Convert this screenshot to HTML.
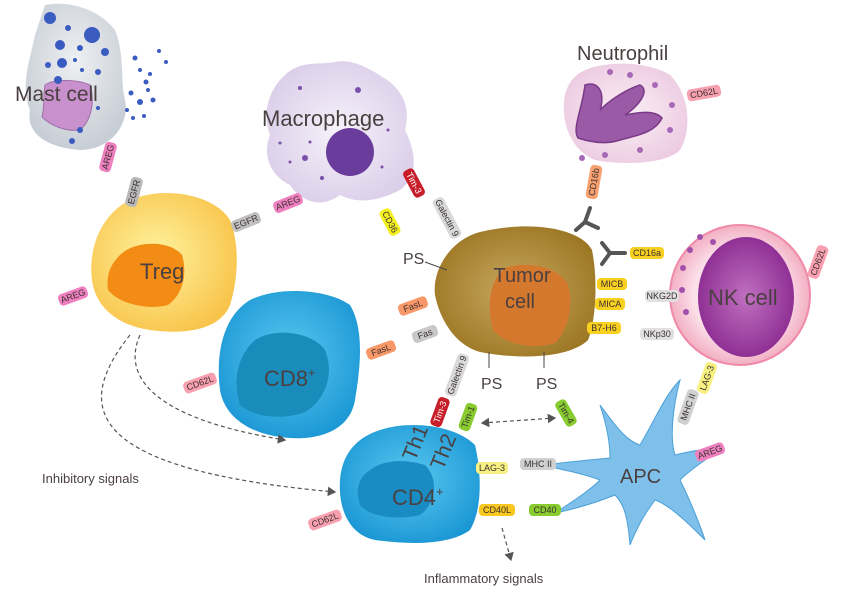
<!DOCTYPE html>
<html><head><meta charset="utf-8"><style>
html,body{margin:0;padding:0;background:#fff;}
svg{display:block;font-family:"Liberation Sans",sans-serif;}
.t{fill:#4a4040;}
.l{font-size:9px;fill:#3a3030;text-anchor:middle;dominant-baseline:central;}
</style></head><body>
<svg width="850" height="597" viewBox="0 0 850 597" xmlns="http://www.w3.org/2000/svg">
<defs>
<radialGradient id="gm" cx="50%" cy="40%" r="60%"><stop offset="0" stop-color="#eef0f2"/><stop offset="1" stop-color="#c8ced6"/></radialGradient>
<radialGradient id="gmac" cx="50%" cy="50%" r="60%"><stop offset="0" stop-color="#f6f2fa"/><stop offset="1" stop-color="#d9cce8"/></radialGradient>
<radialGradient id="gt" cx="45%" cy="45%" r="60%"><stop offset="0" stop-color="#fff3a0"/><stop offset="1" stop-color="#f8c44a"/></radialGradient>
<radialGradient id="gb" cx="50%" cy="45%" r="60%"><stop offset="0" stop-color="#5ac8f0"/><stop offset="1" stop-color="#1a96d4"/></radialGradient>
<radialGradient id="gtu" cx="50%" cy="50%" r="60%"><stop offset="0" stop-color="#c8a860"/><stop offset="1" stop-color="#9a7420"/></radialGradient>
<radialGradient id="gnk" cx="50%" cy="50%" r="55%"><stop offset="0.6" stop-color="#fbe0ea"/><stop offset="1" stop-color="#f0a0b8"/></radialGradient>
<radialGradient id="gnkn" cx="50%" cy="50%" r="55%"><stop offset="0" stop-color="#c070c0"/><stop offset="1" stop-color="#8a2a90"/></radialGradient>
<radialGradient id="gne" cx="50%" cy="50%" r="60%"><stop offset="0" stop-color="#faf0f6"/><stop offset="1" stop-color="#ecc8e0"/></radialGradient>
<marker id="ar" markerWidth="8" markerHeight="8" refX="6" refY="4" orient="auto"><path d="M0,0 L7,4 L0,8 z" fill="#555"/></marker>
<marker id="al" markerWidth="8" markerHeight="8" refX="2" refY="4" orient="auto"><path d="M8,0 L1,4 L8,8 z" fill="#555"/></marker>
</defs>

<!-- Mast cell -->
<path d="M45,5 C70,0 100,10 115,30 C125,55 120,80 125,100 C130,125 110,150 80,150 C50,148 25,135 30,110 C20,85 30,60 35,35 Z" fill="url(#gm)"/>
<path d="M45,85 C55,78 80,80 90,85 C95,100 92,120 80,130 C65,132 50,125 42,117 C45,105 43,95 45,85Z" fill="#c890cc" stroke="#a070a8" stroke-width="1"/>
<g fill="#3a5cc0">
<circle cx="50" cy="18" r="6"/><circle cx="92" cy="35" r="8"/><circle cx="60" cy="45" r="5"/><circle cx="105" cy="52" r="4"/><circle cx="62" cy="63" r="5"/><circle cx="48" cy="65" r="3"/><circle cx="98" cy="72" r="3"/><circle cx="58" cy="80" r="4"/><circle cx="80" cy="48" r="3"/><circle cx="68" cy="28" r="3"/><circle cx="75" cy="60" r="2"/><circle cx="82" cy="70" r="2"/><circle cx="98" cy="108" r="2"/><circle cx="80" cy="130" r="3"/><circle cx="72" cy="141" r="3"/>
<circle cx="135" cy="58" r="2.5"/><circle cx="159" cy="51" r="2"/><circle cx="166" cy="62" r="2"/><circle cx="140" cy="70" r="2"/><circle cx="150" cy="74" r="2"/><circle cx="146" cy="82" r="2.5"/><circle cx="131" cy="93" r="2.5"/><circle cx="140" cy="102" r="3"/><circle cx="153" cy="100" r="2.5"/><circle cx="127" cy="110" r="2"/><circle cx="133" cy="118" r="2"/><circle cx="144" cy="116" r="2"/><circle cx="148" cy="90" r="2"/>
</g>
<text x="15" y="101" font-size="21" class="t">Mast cell</text>

<!-- Macrophage -->
<path d="M285,75 C300,60 320,65 335,62 C355,58 375,72 390,82 C405,95 410,110 405,130 C415,150 420,175 400,190 C380,200 360,205 340,195 C320,210 300,200 290,185 C270,175 262,155 270,135 C262,115 268,90 285,75Z" fill="url(#gmac)"/>
<circle cx="350" cy="152" r="24" fill="#6a3c9c"/>
<g fill="#7a50a8"><circle cx="300" cy="88" r="2"/><circle cx="358" cy="90" r="3"/><circle cx="280" cy="143" r="1.5"/><circle cx="305" cy="158" r="3"/><circle cx="290" cy="162" r="1.5"/><circle cx="322" cy="178" r="2"/><circle cx="382" cy="167" r="1.5"/><circle cx="388" cy="130" r="1.5"/><circle cx="310" cy="142" r="1.5"/></g>
<text x="262" y="126" font-size="22" class="t">Macrophage</text>

<!-- Neutrophil -->
<path d="M585,70 C610,60 650,62 670,75 C690,95 692,130 680,150 C665,165 620,165 595,160 C570,150 560,120 565,95 C568,82 575,75 585,70Z" fill="url(#gne)"/>
<path d="M585,85 C600,80 605,95 600,110 C610,100 625,90 640,85 C650,90 640,105 625,115 C640,112 655,110 662,118 C655,132 640,135 620,140 C605,145 590,142 578,138 C572,128 582,110 585,85Z" fill="#9a5aa6" stroke="#7a3a88" stroke-width="1.5"/>
<g fill="#a868b8"><circle cx="610" cy="72" r="3"/><circle cx="630" cy="75" r="3"/><circle cx="655" cy="85" r="3"/><circle cx="672" cy="105" r="3"/><circle cx="670" cy="130" r="3"/><circle cx="582" cy="158" r="3"/><circle cx="605" cy="155" r="3"/><circle cx="640" cy="150" r="3"/></g>
<text x="577" y="60" font-size="20" class="t">Neutrophil</text>

<!-- Treg -->
<path d="M130,200 C165,185 215,195 230,220 C240,245 238,280 230,305 C220,330 185,335 150,330 C115,325 95,305 92,280 C88,250 100,215 130,200Z" fill="url(#gt)"/>
<path d="M120,255 C135,240 170,240 182,255 C188,275 182,295 168,305 C150,310 120,305 108,290 C106,275 110,265 120,255Z" fill="#f28c14"/>
<text x="140" y="279" font-size="22" class="t">Treg</text>

<!-- CD8 -->
<path d="M250,300 C280,285 330,290 350,305 C365,330 360,370 355,400 C350,430 320,440 290,438 C255,436 225,420 220,390 C215,350 225,315 250,300Z" fill="url(#gb)"/>
<path d="M255,340 C280,325 315,335 325,350 C335,375 325,400 305,412 C285,420 255,418 240,405 C232,380 238,355 255,340Z" fill="#1a8cbc"/>
<text x="264" y="386" font-size="22" class="t">CD8<tspan font-size="13" dy="-9">+</tspan></text>

<!-- Tumor cell -->
<path d="M480,232 C530,220 580,228 592,250 C598,280 596,320 588,340 C570,358 520,360 480,352 C455,345 440,320 435,295 C432,270 450,240 480,232Z" fill="url(#gtu)"/>
<path d="M505,268 C530,260 560,268 568,285 C574,305 568,330 555,343 C535,350 505,345 493,330 C486,305 490,280 505,268Z" fill="#d4782e"/>
<text x="522" y="282" font-size="20" class="t" text-anchor="middle">Tumor</text>
<text x="520" y="308" font-size="20" class="t" text-anchor="middle">cell</text>

<!-- NK cell -->
<circle cx="740" cy="295" r="70" fill="url(#gnk)" stroke="#f08aa8" stroke-width="2"/>
<ellipse cx="746" cy="297" rx="48" ry="60" fill="url(#gnkn)"/>
<g fill="#a050a8"><circle cx="690" cy="250" r="3"/><circle cx="700" cy="237" r="3"/><circle cx="713" cy="242" r="3"/><circle cx="683" cy="268" r="3"/><circle cx="682" cy="290" r="3"/><circle cx="686" cy="312" r="3"/></g>
<text x="708" y="305" font-size="22" class="t">NK cell</text>

<!-- APC -->
<path d="M600,405 C615,425 625,440 640,445 C655,420 665,395 680,380 C672,410 670,440 675,455 C695,450 710,448 720,450 C705,460 690,470 680,480 C690,500 700,525 705,540 C690,525 670,505 655,500 C648,510 640,520 630,545 C628,520 625,505 615,495 C590,505 570,510 555,513 C575,500 590,490 600,480 C580,472 560,470 545,465 C565,462 590,460 610,458 C610,440 605,420 600,405Z" fill="#7fc0ea" stroke="#4aa0d8" stroke-width="1"/>
<text x="620" y="483" font-size="20" class="t">APC</text>

<!-- CD4 -->
<path d="M380,430 C410,420 455,425 475,445 C482,475 482,510 470,530 C450,545 410,545 375,540 C350,535 338,510 340,480 C342,455 355,438 380,430Z" fill="url(#gb)"/>
<path d="M370,470 C385,458 410,460 425,465 C440,480 435,505 420,515 C400,520 370,518 360,505 C355,490 358,478 370,470Z" fill="#1a8cc4"/>
<text x="392" y="505" font-size="22" class="t">CD4<tspan font-size="13" dy="-9">+</tspan></text>
<text x="0" y="0" font-size="21" class="t" transform="translate(415,462) rotate(-68)">Th1</text>
<text x="0" y="0" font-size="21" class="t" transform="translate(443,471) rotate(-68)">Th2</text>

<!-- Fc receptors -->
<g stroke="#555" stroke-width="4" fill="none" stroke-linecap="round">
<path d="M585,222 L576,230 M585,222 L590,208 M585,222 L598,228" />
<path d="M610,253 L625,253 M610,253 L602,243 M610,253 L602,264"/>
</g>

<!-- PS -->
<g stroke="#444" stroke-width="1"><line x1="425" y1="262" x2="447" y2="270"/><line x1="489" y1="352" x2="489" y2="368"/><line x1="544" y1="352" x2="544" y2="368"/></g>
<text x="403" y="264" font-size="16" class="t">PS</text>
<text x="481" y="389" font-size="16" class="t">PS</text>
<text x="536" y="389" font-size="16" class="t">PS</text>

<!-- labels -->
<g class="l">
<g transform="translate(108,157) rotate(-75)"><rect x="-15" y="-6" width="30" height="12" rx="4" fill="#ef80c0"/><text>AREG</text></g>
<g transform="translate(134,192) rotate(-75)"><rect x="-15" y="-6" width="30" height="12" rx="4" fill="#b8b8b8"/><text>EGFR</text></g>
<g transform="translate(246,222) rotate(-22)"><rect x="-15" y="-6" width="30" height="12" rx="4" fill="#c0c0c0"/><text>EGFR</text></g>
<g transform="translate(288,203) rotate(-22)"><rect x="-15" y="-6" width="30" height="12" rx="4" fill="#ef80c0"/><text>AREG</text></g>
<g transform="translate(73,296) rotate(-20)"><rect x="-15" y="-6" width="30" height="12" rx="4" fill="#ef80c0"/><text>AREG</text></g>
<g transform="translate(414,183) rotate(62)"><rect x="-15" y="-6" width="30" height="12" rx="4" fill="#c81e2a"/><text fill="#fff">Tim-3</text></g>
<g transform="translate(447,218) rotate(62)"><rect x="-22" y="-6" width="44" height="12" rx="4" fill="#d8d8d8"/><text>Galectin 9</text></g>
<g transform="translate(390,222) rotate(62)"><rect x="-14" y="-6" width="28" height="12" rx="4" fill="#f4f020"/><text>CD36</text></g>
<g transform="translate(594,182) rotate(-80)"><rect x="-17" y="-6" width="34" height="12" rx="4" fill="#f8a070"/><text>CD16b</text></g>
<g transform="translate(647,253)"><rect x="-17" y="-6" width="34" height="12" rx="4" fill="#f8d020"/><text>CD16a</text></g>
<g transform="translate(612,284)"><rect x="-15" y="-6" width="30" height="12" rx="4" fill="#f8d020"/><text>MICB</text></g>
<g transform="translate(610,304)"><rect x="-15" y="-6" width="30" height="12" rx="4" fill="#f8d020"/><text>MICA</text></g>
<g transform="translate(604,328)"><rect x="-17" y="-6" width="34" height="12" rx="4" fill="#f8d020"/><text>B7-H6</text></g>
<g transform="translate(662,296)"><rect x="-17" y="-6" width="34" height="12" rx="4" fill="#e0e0e0"/><text>NKG2D</text></g>
<g transform="translate(657,334)"><rect x="-17" y="-6" width="34" height="12" rx="4" fill="#e0e0e0"/><text>NKp30</text></g>
<g transform="translate(704,93) rotate(-10)"><rect x="-17" y="-6" width="34" height="12" rx="4" fill="#f8a0b0"/><text>CD62L</text></g>
<g transform="translate(818,262) rotate(-70)"><rect x="-17" y="-6" width="34" height="12" rx="4" fill="#f8a0b0"/><text>CD62L</text></g>
<g transform="translate(413,306) rotate(-20)"><rect x="-15" y="-6" width="30" height="12" rx="4" fill="#f89868"/><text>FasL</text></g>
<g transform="translate(425,334) rotate(-20)"><rect x="-13" y="-6" width="26" height="12" rx="4" fill="#c8c8c8"/><text>Fas</text></g>
<g transform="translate(381,350) rotate(-20)"><rect x="-15" y="-6" width="30" height="12" rx="4" fill="#f89868"/><text>FasL</text></g>
<g transform="translate(200,383) rotate(-20)"><rect x="-17" y="-6" width="34" height="12" rx="4" fill="#f8a0b0"/><text>CD62L</text></g>
<g transform="translate(457,375) rotate(-70)"><rect x="-22" y="-6" width="44" height="12" rx="4" fill="#d8d8d8"/><text>Galectin 9</text></g>
<g transform="translate(440,412) rotate(-70)"><rect x="-15" y="-6" width="30" height="12" rx="4" fill="#c81e2a"/><text fill="#fff">Tim-3</text></g>
<g transform="translate(468,417) rotate(-70)"><rect x="-14" y="-6" width="28" height="12" rx="4" fill="#88cc30"/><text>Tim-1</text></g>
<g transform="translate(566,413) rotate(60)"><rect x="-14" y="-6" width="28" height="12" rx="4" fill="#88cc30"/><text>Tim-4</text></g>
<g transform="translate(492,468)"><rect x="-16" y="-6" width="32" height="12" rx="4" fill="#f8f080"/><text>LAG-3</text></g>
<g transform="translate(538,464)"><rect x="-18" y="-6" width="36" height="12" rx="4" fill="#d0d0d0"/><text>MHC II</text></g>
<g transform="translate(497,510)"><rect x="-18" y="-6" width="36" height="12" rx="4" fill="#f8c820"/><text>CD40L</text></g>
<g transform="translate(545,510)"><rect x="-16" y="-6" width="32" height="12" rx="4" fill="#88cc30"/><text>CD40</text></g>
<g transform="translate(707,378) rotate(-70)"><rect x="-16" y="-6" width="32" height="12" rx="4" fill="#f8f080"/><text>LAG-3</text></g>
<g transform="translate(688,407) rotate(-70)"><rect x="-18" y="-6" width="36" height="12" rx="4" fill="#d0d0d0"/><text>MHC II</text></g>
<g transform="translate(710,452) rotate(-20)"><rect x="-15" y="-6" width="30" height="12" rx="4" fill="#ef80c0"/><text>AREG</text></g>
<g transform="translate(325,520) rotate(-20)"><rect x="-17" y="-6" width="34" height="12" rx="4" fill="#f8a0b0"/><text>CD62L</text></g>
</g>

<!-- dashed arrows -->
<g stroke="#555" stroke-width="1.2" fill="none" stroke-dasharray="4,3">
<path d="M140,335 C120,380 160,420 285,440" marker-end="url(#ar)"/>
<path d="M130,335 C70,410 90,470 335,492" marker-end="url(#ar)"/>
<path d="M482,423 L555,418" marker-end="url(#ar)" marker-start="url(#al)"/>
<path d="M502,528 L511,560" marker-end="url(#ar)"/>
</g>
<text x="42" y="483" font-size="13" class="t">Inhibitory signals</text>
<text x="424" y="583" font-size="13" class="t">Inflammatory signals</text>
</svg>
</body></html>
